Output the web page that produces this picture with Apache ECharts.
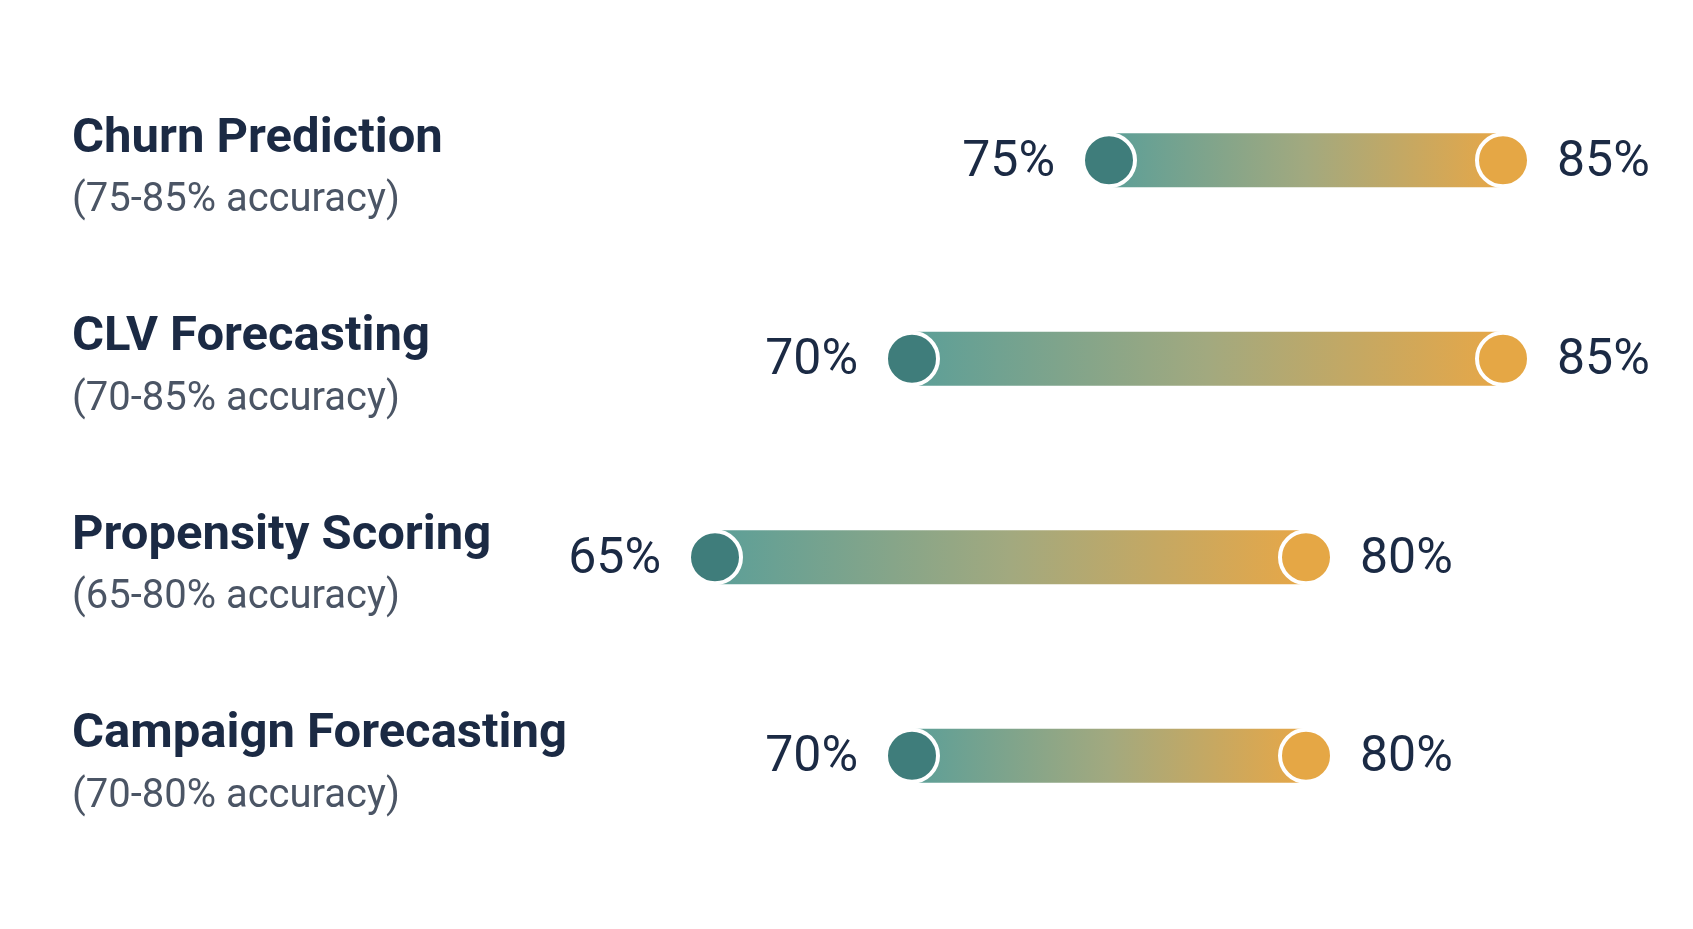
<!DOCTYPE html>
<html>
<head>
<meta charset="utf-8">
<title>Model accuracy ranges</title>
<script src="https://cdn.jsdelivr.net/npm/echarts@6/dist/echarts.min.js"></script>
<style>
  html, body { margin: 0; padding: 0; background: #ffffff; }
  #chart { width: 1693px; height: 929px; }
</style>
</head>
<body>
<div id="chart"></div>
<script>
// -------------------------- data --------------------------
const models = ['Churn Prediction', 'CLV Forecasting', 'Propensity Scoring', 'Campaign Forecasting'];
const lowAcc = [75, 70, 65, 70];   // lower bound of accuracy (%)
const highAcc = [85, 85, 80, 80];  // upper bound of accuracy (%)

// -------------------------- style --------------------------
const FONT = '"Roboto", "Noto Sans", sans-serif';
const NAVY = '#1b2a44';
const GREY = '#4b5565';
const TEAL_DOT = '#3f7d7b';
const ORANGE_DOT = '#e5a745';

const chart = echarts.init(document.getElementById('chart'));

// subtitle line like "(75-85% accuracy)"
const subLabel = (i) => '(' + lowAcc[i] + '-' + highAcc[i] + '% accuracy)';

// value label next to a dot
const valueLabel = (pos) => ({
  show: true,
  position: pos,
  distance: 26,
  offset: [0, 3],
  fontFamily: FONT,
  fontSize: 50,
  color: NAVY,
  formatter: (p) => p.value[0] + '%'
});

const option = {
  backgroundColor: '#ffffff',
  animation: false,
  grid: { left: 715, right: 190, top: 61, bottom: 74 },
  xAxis: {
    type: 'value',
    min: 65,
    max: 85,
    show: false
  },
  yAxis: {
    type: 'category',
    data: models,
    inverse: true,
    axisLine: { show: false },
    axisTick: { show: false },
    splitLine: { show: false },
    axisLabel: {
      align: 'left',
      margin: 643,
      padding: [22, 0, 0, 0],
      formatter: (name, idx) => '{t|' + name + '}\n{s|' + subLabel(idx) + '}',
      rich: {
        t: { fontFamily: FONT, fontSize: 49, fontWeight: 'bold', color: NAVY, lineHeight: 60 },
        s: { fontFamily: FONT, fontSize: 40, color: GREY, lineHeight: 64 }
      }
    }
  },
  series: [
    // invisible base so the visible bar starts at the lower bound
    {
      type: 'bar',
      stack: 'range',
      barWidth: 54,
      silent: true,
      itemStyle: { color: 'transparent' },
      data: lowAcc
    },
    // the range bar, teal -> orange
    {
      type: 'bar',
      stack: 'range',
      barWidth: 54,
      itemStyle: {
        color: new echarts.graphic.LinearGradient(0, 0, 1, 0, [
          { offset: 0, color: '#5c9f98' },
          { offset: 0.5, color: '#a2a97f' },
          { offset: 1, color: '#e7a747' }
        ])
      },
      data: highAcc.map((v, i) => v - lowAcc[i])
    },
    // lower bound dot + label
    {
      type: 'scatter',
      symbolSize: 52,
      itemStyle: { color: TEAL_DOT, borderColor: '#ffffff', borderWidth: 4, opacity: 1 },
      label: valueLabel('left'),
      data: lowAcc.map((v, i) => [v, i])
    },
    // upper bound dot + label
    {
      type: 'scatter',
      symbolSize: 52,
      itemStyle: { color: ORANGE_DOT, borderColor: '#ffffff', borderWidth: 4, opacity: 1 },
      label: valueLabel('right'),
      data: highAcc.map((v, i) => [v, i])
    }
  ]
};

chart.setOption(option);
window.addEventListener('resize', () => chart.resize());
</script>
</body>
</html>
